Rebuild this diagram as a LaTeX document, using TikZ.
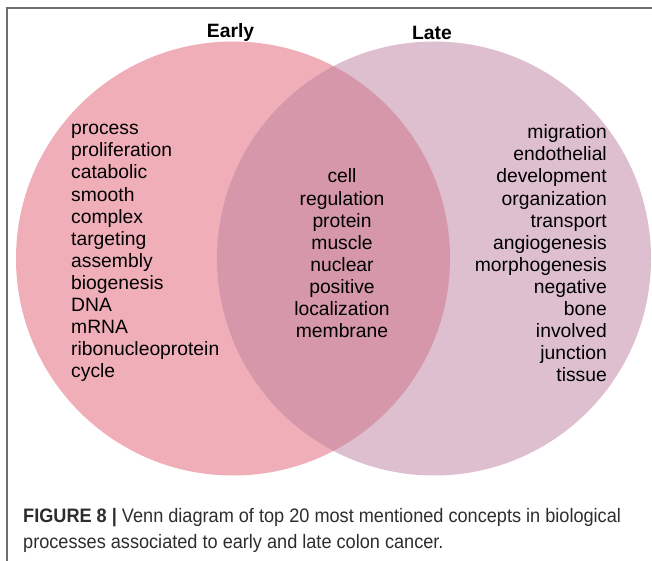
\documentclass[tikz,border=0pt]{standalone}
\usepackage{fontspec}
\setmainfont{Liberation Sans}
\newfontfamily\captionfont[FakeStretch=0.93]{Liberation Sans}
\definecolor{earlyPink}{RGB}{239,174,184}
\definecolor{latePink}{RGB}{222,191,207}
\definecolor{bothPink}{RGB}{213,151,169}
\definecolor{frameGrey}{RGB}{110,110,110}
\definecolor{captionGrey}{RGB}{45,45,45}
\def\radius{217pt}
\tikzstyle{set} = [circle, minimum size=434pt, inner sep=0pt]
\tikzstyle{set title} = [inner sep=0pt, anchor=base, font=\fontsize{19.3}{22}\selectfont\bfseries]
\tikzstyle{term} = [inner sep=0pt, font=\fontsize{19.3}{22}\selectfont]
\tikzstyle{caption line} = [inner sep=0pt, anchor=base west, text=captionGrey, font=\captionfont\fontsize{19.5}{26}\selectfont]
\tikzstyle{frame edge} = [draw, line width=1.3pt, frameGrey]
\def\earlyTerms{process, proliferation, catabolic, smooth, complex, targeting, assembly, biogenesis, DNA, mRNA, ribonucleoprotein, cycle}
\def\sharedTerms{cell, regulation, protein, muscle, nuclear, positive, localization, membrane}
\def\lateTerms{migration, endothelial, development, organization, transport, angiogenesis, morphogenesis, negative, bone, involved, junction, tissue}

\begin{document}
\begin{tikzpicture}[x=1pt, y=-1pt]
  \useasboundingbox (0,0) rectangle (652,561);

  % the two sets and their overlap
  \node[set, fill=earlyPink] (early) at (233,258.5) {};
  \node[set, fill=latePink] (late) at (434,258.5) {};
  \begin{scope}
    \clip (early.center) circle[radius=\radius];
    \fill[bothPink] (late.center) circle[radius=\radius];
  \end{scope}

  \node[set title] (early title) at (230.5,37.5) {Early};
  \node[set title] (late title) at (432,40) {Late};

  \foreach \word [count=\i] in \earlyTerms {
    \node[term, anchor=base west] (early-\i) at (71,{135+22*(\i-1)}) {\word};
    }

  \foreach \word [count=\i] in \sharedTerms {
    \node[term, anchor=base] (both-\i) at (342,{183+22*(\i-1)}) {\word};
    }

  \foreach \word [count=\i] in \lateTerms {
    \node[term, anchor=base east] (late-\i) at (607,{139+22*(\i-1)}) {\word};
    }

  % frame and caption
  \path[frame edge] (7,561) |- (652,8);
  \node[caption line] (caption-1) at (23,522) {{\bfseries FIGURE 8 |} Venn diagram of top 20 most mentioned concepts in biological};
  \node[caption line] (caption-2) at (23,548) {processes associated to early and late colon cancer.};

\end{tikzpicture}
\end{document}
